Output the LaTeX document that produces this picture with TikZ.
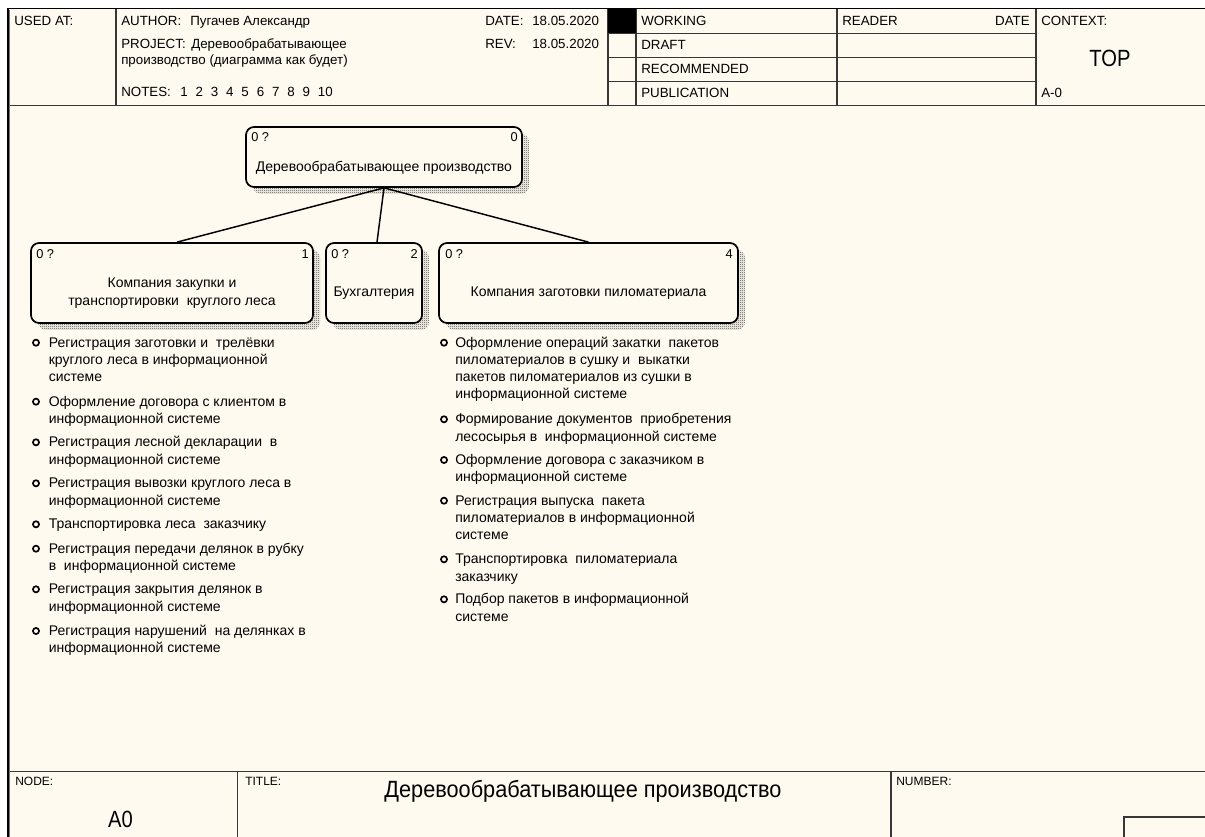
\documentclass[tikz,border=0pt]{standalone}
\usepackage{fontspec}
\usepackage{graphicx}
\setmainfont{Liberation Sans}
\usetikzlibrary{patterns,shadows}

\definecolor{paper}{RGB}{255,250,240}
\definecolor{rulegray}{RGB}{55,55,55}

% fine checkered fill for the box shadows
\pgfdeclarepatternformonly{finecheck}{\pgfpointorigin}{\pgfpoint{1.5pt}{1.5pt}}{\pgfpoint{1.5pt}{1.5pt}}{%
  \pgfpathrectangle{\pgfpointorigin}{\pgfpoint{0.75pt}{0.75pt}}%
  \pgfpathrectangle{\pgfpoint{0.75pt}{0.75pt}}{\pgfpoint{0.75pt}{0.75pt}}%
  \pgfusepath{fill}}

\newdimen\pxu \pxu=0.75pt
\newcommand\hdrfont{\fontsize{10pt}{12pt}\selectfont}
\newcommand\ftrfont{\fontsize{9pt}{10.8pt}\selectfont}
\newcommand\tagfont{\fontsize{9.6pt}{11pt}\selectfont}
\newcommand\txtfont{\fontsize{10.5pt}{12.9pt}\selectfont}
\newcommand\bigfont{\fontsize{17.6pt}{20pt}\selectfont}
\newcommand\narrow[1]{\scalebox{0.86}[1]{#1}}
\newcommand\lst[1]{\parbox[t]{340pt}{\raggedright #1}}

\begin{document}
\begin{tikzpicture}[x=0.75pt,y=-0.75pt,
  rule/.style={draw=rulegray, line width=0.9pt},
  hdr/.style={font=\hdrfont, anchor=base west, inner sep=0pt},
  hdrr/.style={font=\hdrfont, anchor=base east, inner sep=0pt},
  ftr/.style={font=\ftrfont, anchor=base west, inner sep=0pt},
  big/.style={font=\bigfont, anchor=base, inner sep=0pt},
  actbox/.style={draw=black, line width=1.3pt, rounded corners=6pt, fill=paper,
    inner sep=0pt,
    drop shadow={shadow xshift=5.25pt, shadow yshift=-5.25pt, opacity=1,
      pattern=finecheck, pattern color=black!75}},
  boxlbl/.style={font=\txtfont, align=center, inner sep=0pt},
  tag/.style={font=\tagfont, inner sep=0pt},
  conn/.style={draw=black, line width=1.1pt},
  bullet/.style={circle, draw=black, line width=1.25pt, minimum size=4.6pt,
    inner sep=0pt},
  item/.style={font=\txtfont, anchor=base west, inner sep=0pt}]

\useasboundingbox (0,0) rectangle (1205,837);
\fill[white] (0,0) rectangle (1205,837);
\fill[paper] (8,9) rectangle (1205,837);

% ---------- header block ----------
\draw[rule] (116,9) -- (116,105.5);
\draw[rule] (608,9) -- (608,105.5);
\draw[rule] (636,9) -- (636,105.5);
\draw[rule] (837,9) -- (837,105.5);
\draw[rule] (1036,9) -- (1036,105.5);
\draw[rule] (608,33.5) -- (1036,33.5);
\draw[rule] (608,57.5) -- (1036,57.5);
\draw[rule] (608,81.5) -- (1036,81.5);
\draw[rule] (8,105.5) -- (1205,105.5);
\fill[black] (608,9) rectangle (636,33.5);

\node[hdr] (usedat) at (14,25.5) {USED AT:};
\node[hdr] (author) at (121,25.5) {AUTHOR:};
\node[hdr] (authorv) at (190,25.5) {Пугачев Александр};
\node[hdr] (project) at (121,49) {PROJECT:};
\node[hdr] (projectv) at (191,49) {Деревообрабатывающее};
\node[hdr] (projectw) at (121,65) {производство (диаграмма как будет)};
\node[hdr] (notes) at (121,96.5) {NOTES:};
\foreach \n [count=\i] in {1,...,10}
  \node[hdr] (note\i) at ({180+15.3*(\i-1)},96.5) {\n};
\node[hdr] (date) at (485,25.5) {DATE:};
\node[hdr] (datev) at (532,25.5) {18.05.2020};
\node[hdr] (rev) at (485,49) {REV:};
\node[hdr] (revv) at (532,49) {18.05.2020};

\node[hdr] (working) at (641,25.5) {WORKING};
\node[hdr] (draft) at (641,49.5) {DRAFT};
\node[hdr] (recomm) at (641,73.5) {RECOMMENDED};
\node[hdr] (public) at (641,97.5) {PUBLICATION};
\node[hdr] (reader) at (842,25.5) {READER};
\node[hdrr] (rdate) at (1030,25.5) {DATE};
\node[hdr] (context) at (1041,25.5) {CONTEXT:};
\node[big] (top) at (1110,66.5) {\narrow{TOP}};
\node[hdr] (anode) at (1041,97.5) {A-0};

% ---------- activity boxes ----------
\node[actbox, minimum width=276\pxu, minimum height=60\pxu] (b0) at (384,157) {};
\node[actbox, minimum width=282\pxu, minimum height=80\pxu] (b1) at (172,283) {};
\node[actbox, minimum width=96\pxu, minimum height=80\pxu] (b2) at (374,283) {};
\node[actbox, minimum width=299\pxu, minimum height=80\pxu] (b3) at (588.5,283) {};

\node[boxlbl] (b0t) at (384,168) {Деревообрабатывающее производство};
\node[boxlbl] (b1t) at (172,293) {Компания закупки и\\[0.6pt]транспортировки\ \ круглого леса};
\node[boxlbl] (b2t) at (374,293.5) {Бухгалтерия};
\node[boxlbl] (b3t) at (588.5,293.5) {Компания заготовки пиломатериала};

\node[tag, anchor=west] (b0a) at (251,137.5) {0 ?};
\node[tag, anchor=east] (b0n) at (518,137.5) {0};
\node[tag, anchor=west] (b1a) at (36,254.5) {0 ?};
\node[tag, anchor=east] (b1n) at (309,254.5) {1};
\node[tag, anchor=west] (b2a) at (331,254.5) {0 ?};
\node[tag, anchor=east] (b2n) at (418,254.5) {2};
\node[tag, anchor=west] (b3a) at (445,254.5) {0 ?};
\node[tag, anchor=east] (b3n) at (733,254.5) {4};

\draw[conn] (b0.south) -- ([xshift=3.75pt]b1.north);
\draw[conn] (b0.south) -- ([xshift=2.25pt]b2.north);
\draw[conn] (b0.south) -- (b3.north);

% ---------- left list ----------
\foreach \y [count=\i] in {342.7,401.7,442.3,483.3,524.3,548.7,589.3,631}
  \node[bullet] (lb\i) at (36,\y) {};
\node[item] (l1) at (48.5,347.3) {\lst{Регистрация заготовки и\ \ трелёвки\\круглого леса в информационной\\системе}};
\node[item] (l2) at (48.5,406.3) {\lst{Оформление договора с клиентом в\\информационной системе}};
\node[item] (l3) at (48.5,446.9) {\lst{Регистрация лесной декларации\ \ в\\информационной системе}};
\node[item] (l4) at (48.5,487.9) {\lst{Регистрация вывозки круглого леса в\\информационной системе}};
\node[item] (l5) at (48.5,528.9) {\lst{Транспортировка леса\ \ заказчику}};
\node[item] (l6) at (48.5,553.3) {\lst{Регистрация передачи делянок в рубку\\в\ \ информационной системе}};
\node[item] (l7) at (48.5,593.9) {\lst{Регистрация закрытия делянок в\\информационной системе}};
\node[item] (l8) at (48.5,635.6) {\lst{Регистрация нарушений\ \ на делянках в\\информационной системе}};

% ---------- right list ----------
\foreach \y [count=\i] in {342.7,419.3,460,500.7,559.3,599.3}
  \node[bullet] (rb\i) at (444,\y) {};
\node[item] (r1) at (455,347.3) {\lst{Оформление операций закатки\ \ пакетов\\пиломатериалов в сушку и\ \ выкатки\\пакетов пиломатериалов из сушки в\\информационной системе}};
\node[item] (r2) at (455,423.9) {\lst{Формирование документов\ \ приобретения\\лесосырья в\ \ информационной системе}};
\node[item] (r3) at (455,464.6) {\lst{Оформление договора с заказчиком в\\информационной системе}};
\node[item] (r4) at (455,505.3) {\lst{Регистрация выпуска\ \ пакета\\пиломатериалов в информационной\\системе}};
\node[item] (r5) at (455,563.9) {\lst{Транспортировка\ \ пиломатериала\\заказчику}};
\node[item] (r6) at (455,603.9) {\lst{Подбор пакетов в информационной\\системе}};

% ---------- footer block ----------
\draw[rule] (8,771.5) -- (1205,771.5);
\draw[rule] (237.5,771.5) -- (237.5,837);
\draw[rule] (891,771.5) -- (891,837);
\draw[rule] (1124,837) -- (1124,817) -- (1205,817);

\node[ftr] (nodelbl) at (15,785) {NODE:};
\node[ftr] (titlelbl) at (245,785) {TITLE:};
\node[ftr] (numlbl) at (896,785) {NUMBER:};
\node[big] (anum) at (120.5,827.5) {\narrow{A0}};
\node[big] (title) at (583,797) {\scalebox{0.925}[1]{Деревообрабатывающее производство}};

% ---------- outer frame ----------
\draw[black, line width=1.2pt] (7,8.5) -- (1205,8.5);
\draw[black, line width=1.5pt] (7.5,8) -- (7.5,837);
\draw[black!55, line width=0.6pt] (9.6,10) -- (9.6,837);
\end{tikzpicture}
\end{document}
